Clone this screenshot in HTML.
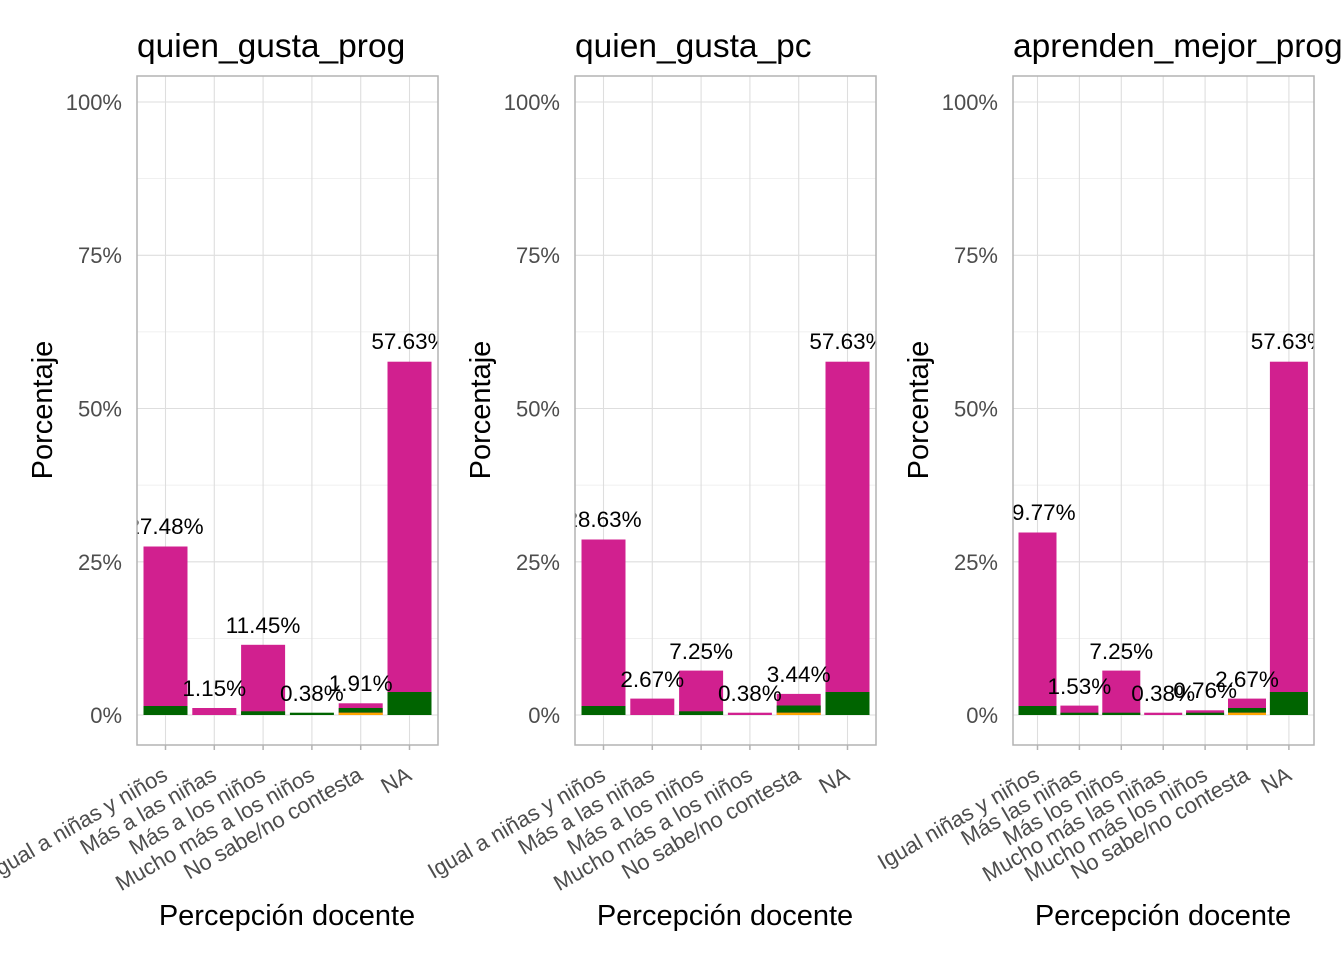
<!DOCTYPE html>
<html><head><meta charset="utf-8"><style>
html,body{margin:0;padding:0;background:#fff}
svg{display:block;font-family:"Liberation Sans",Arial,sans-serif}
.mn{stroke:#ebebeb;stroke-width:0.8}
.mj{stroke:#dedede;stroke-width:1.1}
.yl{fill:#4d4d4d;font-size:22px;text-anchor:end}
.xl{fill:#4d4d4d;font-size:22px;text-anchor:end}
.v{fill:#000;font-size:22.5px;text-anchor:middle}
.t{fill:#000;font-size:33.5px}
.at{fill:#000;font-size:29px;text-anchor:middle}
.p{fill:#d1208f}.g{fill:#006400}.o{fill:#ffa500}
</style></head><body>
<svg width="1344" height="960" viewBox="0 0 1344 960">
<defs><clipPath id="c"><rect x="0" y="76" width="301" height="669"/></clipPath></defs>

<!-- PANEL 1 -->
<g transform="translate(137,0)">
<rect x="0" y="76" width="301" height="669" fill="#fff"/>
<g class="mn"><line x1="0" x2="301" y1="178.6" y2="178.6"/><line x1="0" x2="301" y1="331.9" y2="331.9"/><line x1="0" x2="301" y1="485.1" y2="485.1"/><line x1="0" x2="301" y1="638.4" y2="638.4"/></g>
<g class="mj"><line x1="0" x2="301" y1="102" y2="102"/><line x1="0" x2="301" y1="255.3" y2="255.3"/><line x1="0" x2="301" y1="408.5" y2="408.5"/><line x1="0" x2="301" y1="561.8" y2="561.8"/><line x1="0" x2="301" y1="715" y2="715"/>
<line x1="28.5" x2="28.5" y1="76" y2="745"/><line x1="77.3" x2="77.3" y1="76" y2="745"/><line x1="126.1" x2="126.1" y1="76" y2="745"/><line x1="174.9" x2="174.9" y1="76" y2="745"/><line x1="223.7" x2="223.7" y1="76" y2="745"/><line x1="272.5" x2="272.5" y1="76" y2="745"/></g>
<g clip-path="url(#c)">
<rect class="p" x="6.5" y="546.5" width="44" height="168.5"/><rect class="g" x="6.5" y="706" width="44" height="9"/>
<rect class="p" x="55.3" y="708" width="44" height="7"/>
<rect class="p" x="104.1" y="644.8" width="44" height="70.2"/><rect class="g" x="104.1" y="711.3" width="44" height="3.7"/>
<rect class="g" x="152.9" y="712.7" width="44" height="2.3"/>
<rect class="p" x="201.7" y="703.3" width="44" height="11.7"/><rect class="g" x="201.7" y="708" width="44" height="4.7"/><rect class="o" x="201.7" y="712.7" width="44" height="2.3"/>
<rect class="p" x="250.5" y="361.7" width="44" height="353.3"/><rect class="g" x="250.5" y="692" width="44" height="23"/>
<text class="v" x="28.5" y="534">27.48%</text>
<text class="v" x="77.3" y="696">1.15%</text>
<text class="v" x="126.1" y="633">11.45%</text>
<text class="v" x="174.9" y="701">0.38%</text>
<text class="v" x="223.7" y="691">1.91%</text>
<text class="v" x="272.5" y="349">57.63%</text>
</g>
<rect x="0" y="76" width="301" height="669" fill="none" stroke="#b3b3b3" stroke-width="1.5"/>
<g stroke="#b3b3b3" stroke-width="1.5"><line x1="28.5" x2="28.5" y1="745" y2="750"/><line x1="77.3" x2="77.3" y1="745" y2="750"/><line x1="126.1" x2="126.1" y1="745" y2="750"/><line x1="174.9" x2="174.9" y1="745" y2="750"/><line x1="223.7" x2="223.7" y1="745" y2="750"/><line x1="272.5" x2="272.5" y1="745" y2="750"/></g>
<text class="xl" transform="translate(32,779) rotate(-30)">Igual a niñas y niños</text>
<text class="xl" transform="translate(81,779) rotate(-30)">Más a las niñas</text>
<text class="xl" transform="translate(130,779) rotate(-30)">Más a los niños</text>
<text class="xl" transform="translate(179,779) rotate(-30)">Mucho más a los niños</text>
<text class="xl" transform="translate(227,779) rotate(-30)">No sabe/no contesta</text>
<text class="xl" transform="translate(276,779) rotate(-30)">NA</text>
<text class="yl" x="-15" y="110">100%</text><text class="yl" x="-15" y="263">75%</text><text class="yl" x="-15" y="416.5">50%</text><text class="yl" x="-15" y="570">25%</text><text class="yl" x="-15" y="723">0%</text>
<text class="t" x="0" y="57">quien_gusta_prog</text>
<text class="at" x="150" y="925">Percepción docente</text>
<text class="at" transform="translate(-85,410) rotate(-90)">Porcentaje</text>
</g>

<!-- PANEL 2 -->
<g transform="translate(575,0)">
<rect x="0" y="76" width="301" height="669" fill="#fff"/>
<g class="mn"><line x1="0" x2="301" y1="178.6" y2="178.6"/><line x1="0" x2="301" y1="331.9" y2="331.9"/><line x1="0" x2="301" y1="485.1" y2="485.1"/><line x1="0" x2="301" y1="638.4" y2="638.4"/></g>
<g class="mj"><line x1="0" x2="301" y1="102" y2="102"/><line x1="0" x2="301" y1="255.3" y2="255.3"/><line x1="0" x2="301" y1="408.5" y2="408.5"/><line x1="0" x2="301" y1="561.8" y2="561.8"/><line x1="0" x2="301" y1="715" y2="715"/>
<line x1="28.5" x2="28.5" y1="76" y2="745"/><line x1="77.3" x2="77.3" y1="76" y2="745"/><line x1="126.1" x2="126.1" y1="76" y2="745"/><line x1="174.9" x2="174.9" y1="76" y2="745"/><line x1="223.7" x2="223.7" y1="76" y2="745"/><line x1="272.5" x2="272.5" y1="76" y2="745"/></g>
<g clip-path="url(#c)">
<rect class="p" x="6.5" y="539.5" width="44" height="175.5"/><rect class="g" x="6.5" y="706" width="44" height="9"/>
<rect class="p" x="55.3" y="698.6" width="44" height="16.4"/>
<rect class="p" x="104.1" y="670.6" width="44" height="44.4"/><rect class="g" x="104.1" y="711.3" width="44" height="3.7"/>
<rect class="p" x="152.9" y="712.7" width="44" height="2.3"/>
<rect class="p" x="201.7" y="693.9" width="44" height="21.1"/><rect class="g" x="201.7" y="705.5" width="44" height="7.2"/><rect class="o" x="201.7" y="712.7" width="44" height="2.3"/>
<rect class="p" x="250.5" y="361.7" width="44" height="353.3"/><rect class="g" x="250.5" y="692" width="44" height="23"/>
<text class="v" x="28.5" y="527">28.63%</text>
<text class="v" x="77.3" y="687">2.67%</text>
<text class="v" x="126.1" y="659">7.25%</text>
<text class="v" x="174.9" y="701">0.38%</text>
<text class="v" x="223.7" y="682">3.44%</text>
<text class="v" x="272.5" y="349">57.63%</text>
</g>
<rect x="0" y="76" width="301" height="669" fill="none" stroke="#b3b3b3" stroke-width="1.5"/>
<g stroke="#b3b3b3" stroke-width="1.5"><line x1="28.5" x2="28.5" y1="745" y2="750"/><line x1="77.3" x2="77.3" y1="745" y2="750"/><line x1="126.1" x2="126.1" y1="745" y2="750"/><line x1="174.9" x2="174.9" y1="745" y2="750"/><line x1="223.7" x2="223.7" y1="745" y2="750"/><line x1="272.5" x2="272.5" y1="745" y2="750"/></g>
<text class="xl" transform="translate(32,779) rotate(-30)">Igual a niñas y niños</text>
<text class="xl" transform="translate(81,779) rotate(-30)">Más a las niñas</text>
<text class="xl" transform="translate(130,779) rotate(-30)">Más a los niños</text>
<text class="xl" transform="translate(179,779) rotate(-30)">Mucho más a los niños</text>
<text class="xl" transform="translate(227,779) rotate(-30)">No sabe/no contesta</text>
<text class="xl" transform="translate(276,779) rotate(-30)">NA</text>
<text class="yl" x="-15" y="110">100%</text><text class="yl" x="-15" y="263">75%</text><text class="yl" x="-15" y="416.5">50%</text><text class="yl" x="-15" y="570">25%</text><text class="yl" x="-15" y="723">0%</text>
<text class="t" x="0" y="57">quien_gusta_pc</text>
<text class="at" x="150" y="925">Percepción docente</text>
<text class="at" transform="translate(-85,410) rotate(-90)">Porcentaje</text>
</g>

<!-- PANEL 3 -->
<g transform="translate(1013,0)">
<rect x="0" y="76" width="301" height="669" fill="#fff"/>
<g class="mn"><line x1="0" x2="301" y1="178.6" y2="178.6"/><line x1="0" x2="301" y1="331.9" y2="331.9"/><line x1="0" x2="301" y1="485.1" y2="485.1"/><line x1="0" x2="301" y1="638.4" y2="638.4"/></g>
<g class="mj"><line x1="0" x2="301" y1="102" y2="102"/><line x1="0" x2="301" y1="255.3" y2="255.3"/><line x1="0" x2="301" y1="408.5" y2="408.5"/><line x1="0" x2="301" y1="561.8" y2="561.8"/><line x1="0" x2="301" y1="715" y2="715"/>
<line x1="24.5" x2="24.5" y1="76" y2="745"/><line x1="66.4" x2="66.4" y1="76" y2="745"/><line x1="108.3" x2="108.3" y1="76" y2="745"/><line x1="150.2" x2="150.2" y1="76" y2="745"/><line x1="192.1" x2="192.1" y1="76" y2="745"/><line x1="234" x2="234" y1="76" y2="745"/><line x1="275.9" x2="275.9" y1="76" y2="745"/></g>
<g clip-path="url(#c)">
<rect class="p" x="5.5" y="532.5" width="38" height="182.5"/><rect class="g" x="5.5" y="706" width="38" height="9"/>
<rect class="p" x="47.4" y="705.6" width="38" height="9.4"/><rect class="g" x="47.4" y="712.7" width="38" height="2.3"/>
<rect class="p" x="89.3" y="670.6" width="38" height="44.4"/><rect class="g" x="89.3" y="712.7" width="38" height="2.3"/>
<rect class="p" x="131.2" y="712.7" width="38" height="2.3"/>
<rect class="p" x="173.1" y="710.3" width="38" height="4.7"/><rect class="g" x="173.1" y="712.7" width="38" height="2.3"/>
<rect class="p" x="215" y="698.6" width="38" height="16.4"/><rect class="g" x="215" y="708" width="38" height="4.7"/><rect class="o" x="215" y="712.7" width="38" height="2.3"/>
<rect class="p" x="256.9" y="361.7" width="38" height="353.3"/><rect class="g" x="256.9" y="692" width="38" height="23"/>
<text class="v" x="24.5" y="520">29.77%</text>
<text class="v" x="66.4" y="694">1.53%</text>
<text class="v" x="108.3" y="659">7.25%</text>
<text class="v" x="150.2" y="701">0.38%</text>
<text class="v" x="192.1" y="698">0.76%</text>
<text class="v" x="234" y="687">2.67%</text>
<text class="v" x="275.9" y="349">57.63%</text>
</g>
<rect x="0" y="76" width="301" height="669" fill="none" stroke="#b3b3b3" stroke-width="1.5"/>
<g stroke="#b3b3b3" stroke-width="1.5"><line x1="24.5" x2="24.5" y1="745" y2="750"/><line x1="66.4" x2="66.4" y1="745" y2="750"/><line x1="108.3" x2="108.3" y1="745" y2="750"/><line x1="150.2" x2="150.2" y1="745" y2="750"/><line x1="192.1" x2="192.1" y1="745" y2="750"/><line x1="234" x2="234" y1="745" y2="750"/><line x1="275.9" x2="275.9" y1="745" y2="750"/></g>
<text class="xl" transform="translate(28,779) rotate(-30)">Igual niñas y niños</text>
<text class="xl" transform="translate(70,779) rotate(-30)">Más las niñas</text>
<text class="xl" transform="translate(112,779) rotate(-30)">Más los niños</text>
<text class="xl" transform="translate(154,779) rotate(-30)">Mucho más las niñas</text>
<text class="xl" transform="translate(196,779) rotate(-30)">Mucho más los niños</text>
<text class="xl" transform="translate(238,779) rotate(-30)">No sabe/no contesta</text>
<text class="xl" transform="translate(280,779) rotate(-30)">NA</text>
<text class="yl" x="-15" y="110">100%</text><text class="yl" x="-15" y="263">75%</text><text class="yl" x="-15" y="416.5">50%</text><text class="yl" x="-15" y="570">25%</text><text class="yl" x="-15" y="723">0%</text>
<text class="t" x="0" y="57">aprenden_mejor_prog</text>
<text class="at" x="150" y="925">Percepción docente</text>
<text class="at" transform="translate(-85,410) rotate(-90)">Porcentaje</text>
</g>
</svg>
</body></html>
